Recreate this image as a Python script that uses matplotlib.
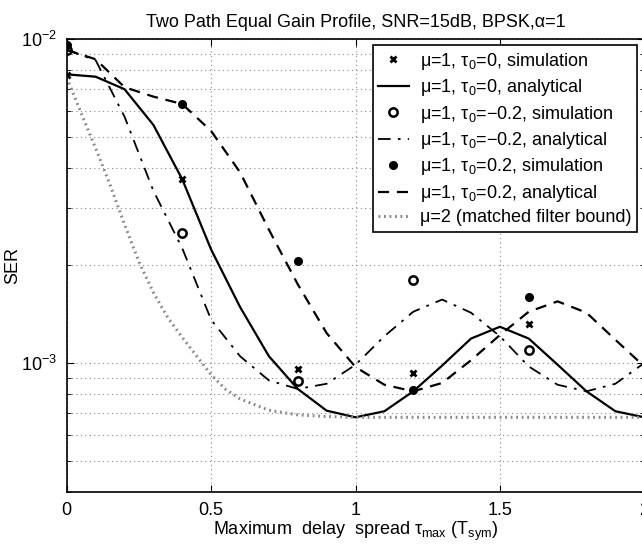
import numpy as np
import matplotlib
matplotlib.use('Agg')
import matplotlib.pyplot as plt
from matplotlib.ticker import LogLocator, NullFormatter, FixedLocator

plt.rcParams['font.family'] = ['Liberation Sans', 'DejaVu Sans']
plt.rcParams['mathtext.fontset'] = 'custom'
plt.rcParams['mathtext.rm'] = 'Liberation Sans'
plt.rcParams['mathtext.it'] = 'Liberation Sans:italic'

# analytical curves, tau_max step 0.1
tau = [0.0, 0.1, 0.2, 0.3, 0.4, 0.5, 0.6, 0.7, 0.8, 0.9, 1.0,
       1.1, 1.2, 1.3, 1.4, 1.5, 1.6, 1.7, 1.8, 1.9, 2.0]
ser_t0 = [7.78e-3, 7.65e-3, 7.0e-3, 5.43e-3, 3.69e-3, 2.24e-3, 1.49e-3, 1.05e-3,
          8.32e-4, 7.13e-4, 6.8e-4, 7.1e-4, 8.18e-4, 9.82e-4, 1.19e-3, 1.294e-3,
          1.19e-3, 9.88e-4, 8.18e-4, 7.1e-4, 6.8e-4]
ser_tm02 = [9.25e-3, 8.6e-3, 5.76e-3, 3.4e-3, 2.26e-3, 1.36e-3, 1.05e-3, 8.84e-4,
            8.32e-4, 8.63e-4, 9.88e-4, 1.21e-3, 1.44e-3, 1.57e-3, 1.43e-3, 1.21e-3,
            9.76e-4, 8.57e-4, 8.18e-4, 8.63e-4, 1.0e-3]
ser_tp02 = [9.25e-3, 8.66e-3, 7.1e-3, 6.64e-3, 6.3e-3, 5.2e-3, 3.88e-3, 2.58e-3,
            1.75e-3, 1.237e-3, 9.72e-4, 8.57e-4, 8.18e-4, 8.68e-4, 1.02e-3, 1.22e-3,
            1.44e-3, 1.55e-3, 1.43e-3, 1.18e-3, 9.76e-4]

# matched filter bound (mu=2)
tau_mfb = [0.0, 0.05, 0.1, 0.15, 0.2, 0.25, 0.3, 0.35, 0.4, 0.45, 0.5, 0.55,
           0.6, 0.7, 0.8, 0.9, 1.0, 1.25, 1.5, 1.75, 2.0]
ser_mfb = [7.6e-3, 5.9e-3, 4.6e-3, 3.55e-3, 2.68e-3, 2.05e-3, 1.65e-3, 1.38e-3,
           1.2e-3, 1.05e-3, 9.2e-4, 8.3e-4, 7.75e-4, 7.15e-4, 6.92e-4, 6.84e-4,
           6.8e-4, 6.8e-4, 6.8e-4, 6.8e-4, 6.8e-4]

# simulation points
tau_sim = [0.0, 0.4, 0.8, 1.2, 1.6]
sim_t0 = [7.74e-3, 3.69e-3, 9.58e-4, 9.35e-4, 1.32e-3]
sim_tm02 = [9.25e-3, 2.52e-3, 8.78e-4, 1.8e-3, 1.1e-3]
sim_tp02 = [9.6e-3, 6.3e-3, 2.07e-3, 8.23e-4, 1.6e-3]

fs = 13

fig = plt.figure(figsize=(6.42, 5.44), dpi=100)
ax = fig.add_axes([0.104, 0.0956, 0.8995, 0.8327])

k = 'black'
ax.plot(tau_sim, sim_t0, 'x', color=k, ms=4.5, mew=2, label=r'μ=1, τ$_0$=0, simulation')
ax.plot(tau, ser_t0, '-', color=k, lw=1.6, label=r'μ=1, τ$_0$=0, analytical')
ax.plot(tau_sim, sim_tm02, 'o', color=k, mfc='white', ms=6, mew=1.8,
        label=r'μ=1, τ$_0$=−0.2, simulation')
ax.plot(tau, ser_tm02, '-.', color=k, lw=1.3, dashes=(7, 4, 1.5, 4),
        label=r'μ=1, τ$_0$=−0.2, analytical')
ax.plot(tau_sim, sim_tp02, 'o', color=k, ms=5.5, label=r'μ=1, τ$_0$=0.2, simulation')
ax.plot(tau, ser_tp02, '--', color=k, lw=1.6, dashes=(5, 3.5),
        label=r'μ=1, τ$_0$=0.2, analytical')
ax.plot(tau_mfb, ser_mfb, color='#8a8a8a', lw=2.2, dashes=(0.6, 1.2),
        label='μ=2 (matched filter bound)')

ax.set_yscale('log')
ax.set_xlim(0, 2)
ax.set_ylim(4e-4, 1e-2)
ax.xaxis.set_major_locator(FixedLocator([0, 0.5, 1, 1.5, 2]))
ax.set_xticklabels(['0', '0.5', '1', '1.5', '2'])
ax.yaxis.set_major_locator(LogLocator(base=10, numticks=5))
ax.yaxis.set_minor_locator(LogLocator(base=10, subs=np.arange(2, 10), numticks=20))
ax.yaxis.set_minor_formatter(NullFormatter())

ax.tick_params(which='both', direction='in', top=True, right=True, labelsize=fs)
ax.tick_params(which='major', length=5, pad=7)
ax.tick_params(which='minor', length=3)
ax.grid(True, which='major', linestyle=(0, (1, 3)), color='#888888', lw=0.8)
ax.grid(True, which='minor', axis='y', linestyle=(0, (1, 3)), color='#888888', lw=0.8)
for s in ax.spines.values():
    s.set_linewidth(1.2)

ax.set_title('Two Path Equal Gain Profile, SNR=15dB, BPSK,α=1', fontsize=fs, pad=9)
ax.set_xlabel(r'Maximum  delay  spread τ$_{\mathrm{max}}$ (T$_{\mathrm{sym}}$)',
              fontsize=fs, labelpad=1)
ax.set_ylabel('SER', fontsize=fs, labelpad=0)

leg = ax.legend(loc='upper right', bbox_to_anchor=(0.988, 0.986), fontsize=fs,
                frameon=True, fancybox=False, edgecolor='black', framealpha=1,
                handlelength=1.7, handletextpad=0.65, labelspacing=0.3,
                borderpad=0.3, borderaxespad=0)
leg.get_frame().set_linewidth(1.2)

fig.savefig('out.png', dpi=100)
